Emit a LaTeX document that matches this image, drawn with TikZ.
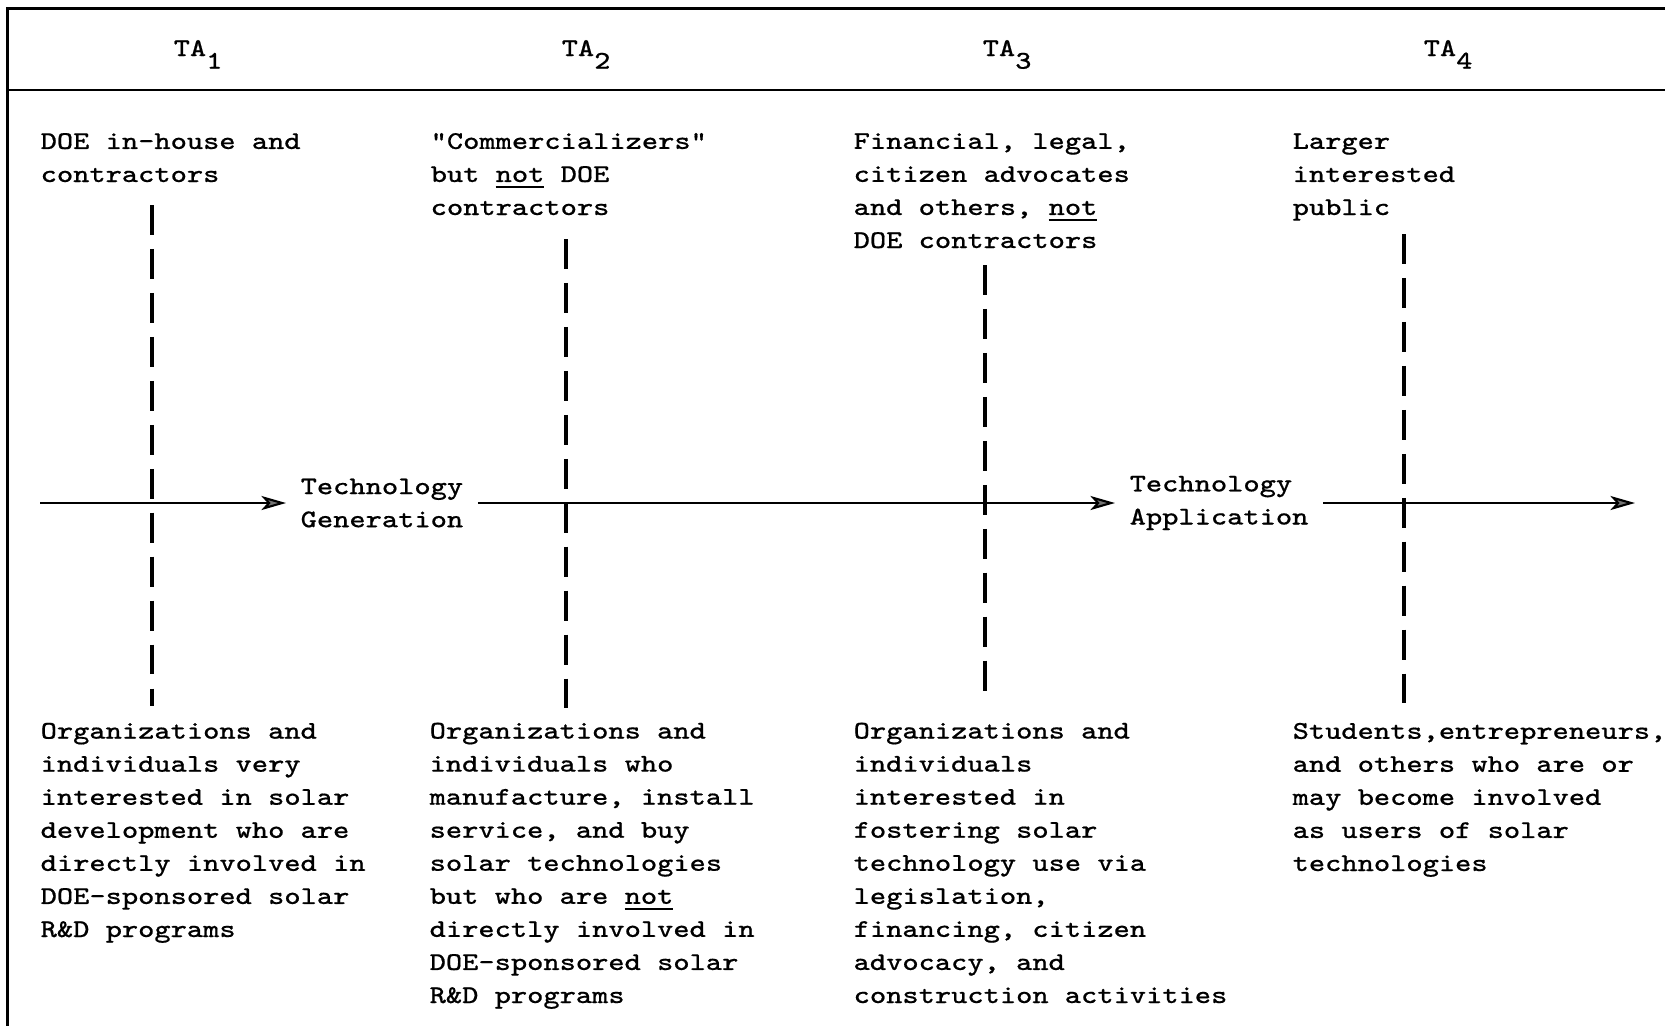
\documentclass[tikz,border=0pt]{standalone}
\usepackage{fontspec}
\setmonofont{Latin Modern Mono}[FakeStretch=1.2,FakeBold=0.6]
\usetikzlibrary{arrows.meta}
\frenchspacing

\begin{document}
\begin{tikzpicture}[x=0.01cm,y=-0.01cm,
    every node/.style={inner sep=0pt, font=\ttfamily\fontsize{7.25}{9.4}\selectfont},
    txt/.style={anchor=base west, align=left},
    frame/.style={line width=0.8pt},
    cut/.style={line width=0.9pt, dash pattern=on 8.5pt off 4pt},
    flow/.style={line width=0.6pt, -{Stealth[length=7pt,width=4pt,inset=1.8pt,fill=black!55]}},
    lbl/.style={anchor=west, align=left, inner xsep=0.14cm}]
    \useasboundingbox (0,0) rectangle (1665,1026);
    \draw [frame] (1665,8.5) -- (7.5,8.5) -- (7.5,1026);
    \draw [frame] (7.5,90) -- (1665,90);
    \node [txt] (ta1) at (173,56) {TA\raisebox{-3.6pt}{1}};
    \node [txt] (ta2) at (561,56) {TA\raisebox{-3.6pt}{2}};
    \node [txt] (ta3) at (982,56) {TA\raisebox{-3.6pt}{3}};
    \node [txt] (ta4) at (1423,56) {TA\raisebox{-3.6pt}{4}};
    \node [txt] (who1) at (40,182) {DOE in-house and\\contractors};
    \node [txt] (who2) at (430,215) {"Commercializers"\\but \underline{not} DOE\\contractors};
    \node [txt] (who3) at (853,248) {Financial, legal,\\citizen advocates\\and others, \underline{not}\\DOE contractors};
    \node [txt] (who4) at (1292,215) {Larger\\interested\\public};
    \node [txt] (desc1) at (40,937) {Organizations and\\individuals very\\interested in solar\\development who are\\directly involved in\\DOE-sponsored solar\\R\&D programs};
    \node [txt] (desc2) at (429,1003) {Organizations and\\individuals who\\manufacture, install\\service, and buy\\solar technologies\\but who are \underline{not}\\directly involved in\\DOE-sponsored solar\\R\&D programs};
    \node [txt] (desc3) at (853,1003) {Organizations and\\individuals\\interested in\\fostering solar\\technology use via\\legislation,\\financing, citizen\\advocacy, and\\construction activities};
    \node [txt] (desc4) at (1292,871) {Students,entrepreneurs,\\and others who are or\\may become involved\\as users of solar\\technologies};
    \coordinate (d1a) at (152,205);
    \coordinate (d1b) at (152,706);
    \coordinate (d2a) at (566,239);
    \coordinate (d2b) at (566,714);
    \coordinate (d3a) at (985,265);
    \coordinate (d3b) at (985,703);
    \coordinate (d4a) at (1404,234);
    \coordinate (d4b) at (1404,709);
    \draw [cut] (d1a) -- (d1b);
    \draw [cut] (d2a) -- (d2b);
    \draw [cut] (d3a) -- (d3b);
    \draw [cut] (d4a) -- (d4b);
    \coordinate (start) at (40,503);
    \coordinate (finish) at (1635,503);
    \node [lbl] (techgen) at (286,503) {Technology\\Generation};
    \node [lbl] (techapp) at (1115,503) {Technology\\Application};
    \draw [flow] (start) -- (techgen);
    \draw [flow] (techgen) -- (techapp);
    \draw [flow] (techapp) -- (finish);
\end{tikzpicture}
\end{document}
